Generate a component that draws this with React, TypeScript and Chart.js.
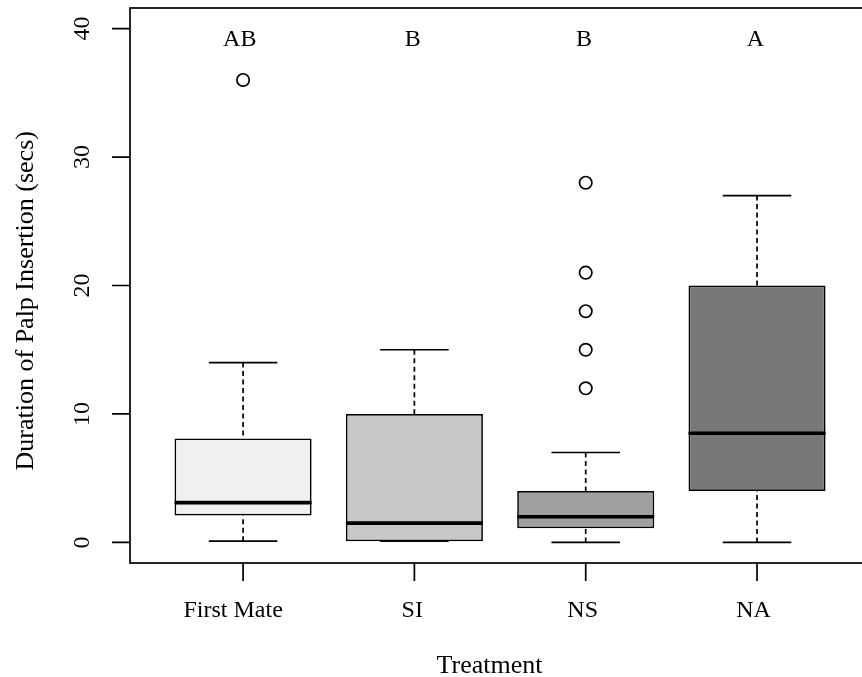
import React, { useEffect, useRef } from 'react';
import { Chart, registerables } from 'chart.js';

Chart.register(...registerables);

// ---- data ----
const categories = ['First Mate', 'SI', 'NS', 'NA'];
const whiskerLow = [0.1, 0.1, 0, 0];
const quartile1 = [2.1, 0.1, 1.1, 4];
const medians = [3.1, 1.5, 2, 8.5];
const quartile3 = [8.1, 10, 4, 20];
const whiskerHigh = [14, 15, 7, 27];
const outliersFirstMate = [36];
const outliersSI: number[] = [];
const outliersNS = [12, 15, 18, 21, 28];
const outliersNA: number[] = [];
const groupLetters = ['AB', 'B', 'B', 'A'];
const letterValue = 39.2;
const yTickValues = [0, 10, 20, 30, 40];
const yTickLabels = ['0', '10', '20', '30', '40'];
const xTitle = 'Treatment';
const yTitle = 'Duration of Palp Insertion (secs)';
const boxFills = ['#F0F0F0', '#C8C8C8', '#A0A0A0', '#787878'];

const outlierGroups = [outliersFirstMate, outliersSI, outliersNS, outliersNA];

const FONT = '24px "Liberation Serif", "Times New Roman", serif';
const TITLE_FONT = '26px "Liberation Serif", "Times New Roman", serif';
const LW = 1.7;
const BOX_WEX = 0.8;

function drawLabel(
  ctx: CanvasRenderingContext2D,
  text: string,
  x: number,
  y: number,
  rotate: boolean,
  shift: number,
  font: string = FONT
) {
  ctx.save();
  ctx.translate(x, y);
  if (rotate) ctx.rotate(-Math.PI / 2);
  ctx.font = font;
  ctx.fillStyle = '#000';
  ctx.textAlign = 'left';
  ctx.textBaseline = 'alphabetic';
  const w = ctx.measureText(text).width;
  ctx.fillText(text, -w / 2 - shift * w, 0);
  ctx.restore();
}

const boxplotPlugin = {
  id: 'boxplotExtras',
  afterDatasetsDraw(chart: any) {
    const ctx: CanvasRenderingContext2D = chart.ctx;
    const xs = chart.scales.x;
    const ys = chart.scales.y;
    const area = chart.chartArea;
    ctx.save();
    ctx.strokeStyle = '#000';
    ctx.lineWidth = LW;
    ctx.lineCap = 'butt';

    categories.forEach((_, i) => {
      const cx = xs.getPixelForValue(i + 1);
      const half = xs.getPixelForValue(i + 1 + BOX_WEX / 2) - cx;
      // dashed whiskers
      ctx.setLineDash([5, 3.5]);
      ctx.beginPath();
      if (whiskerHigh[i] > quartile3[i]) {
        ctx.moveTo(cx, ys.getPixelForValue(whiskerHigh[i]));
        ctx.lineTo(cx, ys.getPixelForValue(quartile3[i]));
      }
      if (whiskerLow[i] < quartile1[i]) {
        ctx.moveTo(cx, ys.getPixelForValue(whiskerLow[i]));
        ctx.lineTo(cx, ys.getPixelForValue(quartile1[i]));
      }
      ctx.stroke();
      ctx.setLineDash([]);
      // staples
      ctx.beginPath();
      [whiskerHigh[i], whiskerLow[i]].forEach((v) => {
        const py = ys.getPixelForValue(v);
        ctx.moveTo(cx - half / 2, py);
        ctx.lineTo(cx + half / 2, py);
      });
      ctx.stroke();
      // median
      ctx.save();
      ctx.lineWidth = 3.6;
      ctx.beginPath();
      const my = ys.getPixelForValue(medians[i]);
      ctx.moveTo(cx - half, my);
      ctx.lineTo(cx + half, my);
      ctx.stroke();
      ctx.restore();
    });

    // frame
    ctx.lineWidth = LW;
    ctx.strokeRect(area.left, area.top, area.right - area.left, area.bottom - area.top);

    // ticks
    ctx.beginPath();
    yTickValues.forEach((v) => {
      const py = ys.getPixelForValue(v);
      ctx.moveTo(area.left - 18, py);
      ctx.lineTo(area.left, py);
    });
    categories.forEach((_, i) => {
      const px = xs.getPixelForValue(i + 1);
      ctx.moveTo(px, area.bottom);
      ctx.lineTo(px, area.bottom + 18);
    });
    ctx.stroke();
    ctx.restore();

    yTickValues.forEach((v, i) => {
      drawLabel(ctx, yTickLabels[i], area.left - 41.5, ys.getPixelForValue(v), true, 0);
    });
    categories.forEach((c, i) => {
      drawLabel(ctx, c, xs.getPixelForValue(i + 1), area.bottom + 54, false, 0.1);
    });

    ctx.save();
    ctx.font = FONT;
    const capH = ctx.measureText('B').actualBoundingBoxAscent || 16;
    ctx.restore();
    groupLetters.forEach((t, i) => {
      drawLabel(ctx, t, xs.getPixelForValue(i + 1), ys.getPixelForValue(letterValue) + capH / 2, false, 0.1);
    });

    drawLabel(ctx, xTitle, (area.left + area.right) / 2, area.bottom + 109.5, false, 0.1, TITLE_FONT);
    drawLabel(ctx, yTitle, area.left - 97, (area.top + area.bottom) / 2, true, 0.045, TITLE_FONT);
  },
};

export default function App() {
  const ref = useRef<HTMLCanvasElement>(null);

  useEffect(() => {
    document.body.style.margin = '0';
    const canvas = ref.current;
    if (!canvas) return;

    const boxData = categories.map((_, i) => ({ x: i + 1, y: [quartile1[i], quartile3[i]] }));
    const outlierData: { x: number; y: number }[] = [];
    outlierGroups.forEach((g, i) => g.forEach((v) => outlierData.push({ x: i + 1, y: v })));

    const chart = new Chart(canvas, {
      type: 'bar',
      data: {
        datasets: [
          {
            type: 'bar',
            data: boxData as any,
            backgroundColor: boxFills,
            borderColor: '#000',
            borderWidth: LW,
            borderSkipped: false,
            barPercentage: 1,
            categoryPercentage: BOX_WEX,
          } as any,
          {
            type: 'scatter',
            data: outlierData,
            pointRadius: 6.2,
            pointBorderWidth: LW,
            pointBorderColor: '#000',
            pointBackgroundColor: 'rgba(0,0,0,0)',
            showLine: false,
          } as any,
        ],
      },
      options: {
        responsive: false,
        animation: false,
        devicePixelRatio: 1,
        events: [],
        layout: { padding: { left: 130, top: 8, right: 2, bottom: 114 } },
        plugins: { legend: { display: false }, tooltip: { enabled: false } },
        scales: {
          x: {
            type: 'linear',
            display: false,
            offset: false,
            grace: 0,
            min: 0.34,
            max: 4.66,
            afterBuildTicks: (scale: any) => {
              scale.ticks = categories.map((_, i) => ({ value: i + 1 }));
            },
          },
          y: {
            type: 'linear',
            display: false,
            min: -1.6,
            max: 41.6,
          },
        },
      },
      plugins: [boxplotPlugin],
    });

    return () => chart.destroy();
  }, []);

  return (
    <div
      style={{
        position: 'fixed',
        left: 0,
        top: 0,
        width: 862,
        height: 677,
        overflow: 'hidden',
        background: '#fff',
      }}
    >
      <canvas ref={ref} width={878} height={677} style={{ display: 'block', width: 878, height: 677 }} />
    </div>
  );
}
